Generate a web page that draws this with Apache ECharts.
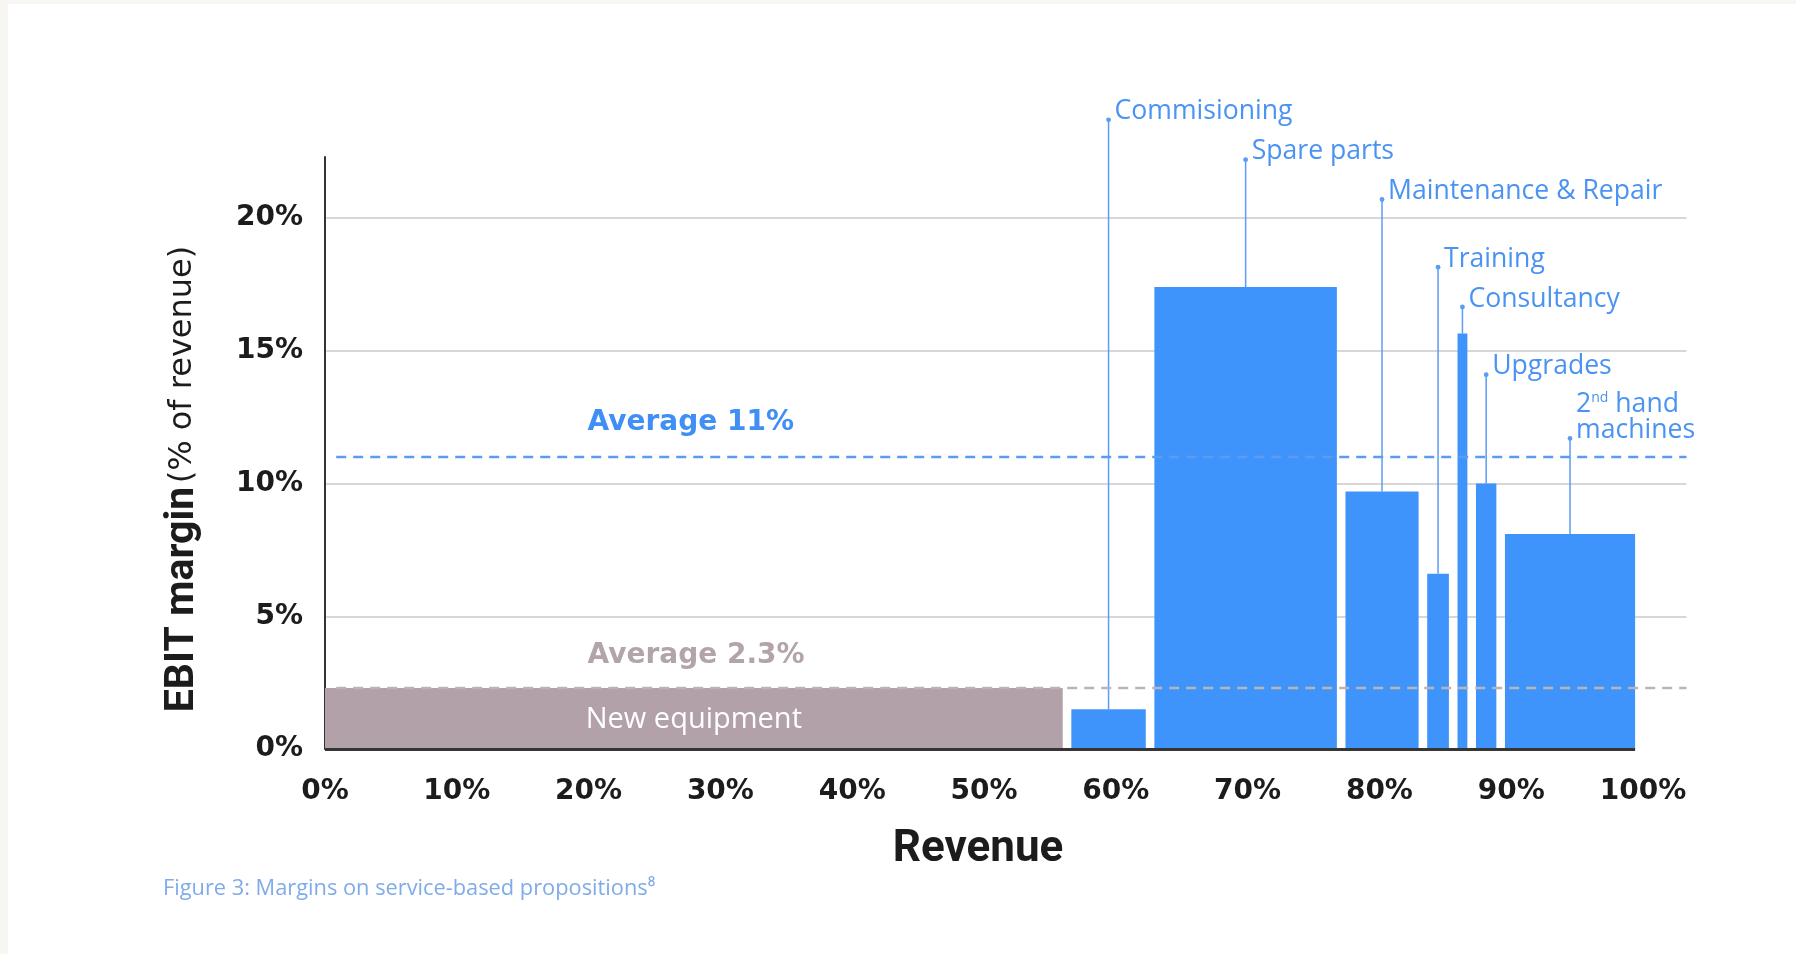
<!DOCTYPE html>
<html><head><meta charset="utf-8">
<script src="https://cdn.jsdelivr.net/npm/echarts@6/dist/echarts.min.js"></script>
<style>
html,body{margin:0;padding:0;background:#f8f6f2;overflow:hidden;}
#bg{position:absolute;left:8px;top:4px;right:0;bottom:0;background:#fff;}
#chart{position:absolute;left:0;top:0;width:1796px;height:954px;}
</style></head><body><div id="bg"></div><div id="chart"></div>
<script>
// ---- data ----
const segments = ['New equipment','Commisioning','Spare parts','Maintenance & Repair','Training','Consultancy','Upgrades','2nd hand machines'];
const segmentLabels = ['New equipment','Commisioning','Spare parts','Maintenance & Repair','Training','Consultancy','Upgrades','2{sup|nd} hand\nmachines'];
const revenueShare = [56.3, 6.3, 14.5, 6.2, 2.3, 1.4, 2.2, 10.2];   // % of revenue (bar widths)
const ebitMargin   = [2.3, 1.5, 17.4, 9.7, 6.6, 15.65, 10.0, 8.1];  // EBIT margin %
const leaderTop    = [null, 23.7, 22.2, 20.7, 18.15, 16.65, 14.1, 11.7]; // label anchor heights (margin units)
const avgServices = 11;
const avgNewEquipment = 2.3;
const avgLabels = ['Average 11%', 'Average 2.3%'];
const xAxisTitle = 'Revenue';
const caption = 'Figure 3: Margins on service-based propositions\u2078';

// ---- styles ----
const BLUE = '#3f94fb', MAUVE = '#b2a1a8', LEADER = '#5a9cf6', TEXTBLUE = '#4a93f2';
const GRID = '#cdc8cb', DARK = '#1c1c1c';

let acc = 0;
const barData = revenueShare.map((w, i) => { const s = acc; acc += w; return [s, acc, ebitMargin[i], i]; });
const total = acc;
const last = barData.length - 1;

function renderBar(params, api) {
  const s = api.value(0), e = api.value(1), m = api.value(2), i = api.value(3);
  const p0 = api.coord([s, 0]), p1 = api.coord([e, m]);
  const half = 4.3;
  const x0 = i === 0 ? p0[0] : p0[0] + half;
  const x1 = i === last ? p1[0] : p1[0] - half;
  const children = [{
    type: 'rect', shape: { x: x0, y: p1[1], width: x1 - x0, height: p0[1] - p1[1] },
    style: { fill: i === 0 ? MAUVE : BLUE }
  }];
  if (i === 0) {
    children.push({ type: 'text', z2: 5, style: {
      text: segmentLabels[0], x: (x0 + x1) / 2, y: (p0[1] + p1[1]) / 2 + 1,
      align: 'center', verticalAlign: 'middle', fill: '#ffffff',
      fontSize: 29, fontFamily: '"Open Sans"' } });
  } else {
    const cx = (x0 + x1) / 2;
    const ty = api.coord([0, leaderTop[i]])[1];
    children.push({ type: 'line', shape: { x1: cx, y1: p1[1], x2: cx, y2: ty }, style: { stroke: LEADER, lineWidth: 1.5 } });
    children.push({ type: 'circle', shape: { cx: cx, cy: ty, r: 2.4 }, style: { fill: LEADER } });
    children.push({ type: 'text', style: {
      text: segmentLabels[i], x: cx + 6, y: ty + 5, align: 'left', verticalAlign: 'bottom',
      fill: TEXTBLUE, fontSize: 26.6, fontFamily: '"Open Sans"', lineHeight: 26,
      rich: { sup: { fontSize: 14, fontFamily: '"Open Sans"', fill: TEXTBLUE, verticalAlign: 'top', lineHeight: 16 } }
    } });
  }
  return { type: 'group', children: children };
}

const chart = echarts.init(document.getElementById('chart'), null, { renderer: 'canvas' });
const option = {
  backgroundColor: 'transparent',
  animation: false,
  grid: { left: 325, right: 109.5, top: 157, bottom: 205, containLabel: false },
  xAxis: {
    type: 'value', min: 0, max: 103.3, interval: 10,
    axisLine: { show: false }, axisTick: { show: false }, splitLine: { show: false },
    axisLabel: { formatter: '{value}%', showMaxLabel: false, margin: 29,
      color: DARK, fontSize: 28, fontWeight: 'bold', fontFamily: '"DejaVu Sans"' }
  },
  yAxis: {
    type: 'value', min: 0, max: 22.3, interval: 5,
    axisLine: { show: true, lineStyle: { color: '#333', width: 2 } },
    axisTick: { show: false },
    splitLine: { show: true, showMinLine: false, showMaxLine: false, lineStyle: { color: GRID, width: 1.6 } },
    axisLabel: { formatter: '{value}%', showMaxLabel: false, margin: 22,
      color: DARK, fontSize: 28, fontWeight: 'bold', fontFamily: '"DejaVu Sans"' }
  },
  series: [
    { type: 'line', data: [], z: 1, silent: true,
      markLine: { silent: true, symbol: 'none', animation: false, label: { show: false },
        data: [
          [{ coord: [0.85, avgServices], lineStyle: { color: '#5b9bf2', width: 2.4, type: [10, 7] } }, { coord: [103.3, avgServices] }],
          [{ coord: [0.85, avgNewEquipment], lineStyle: { color: '#bcb3b8', width: 2.4, type: [10, 7] } }, { coord: [103.3, avgNewEquipment] }]
        ] } },
    { type: 'custom', z: 2, data: barData, encode: { x: [0, 1], y: 2 }, renderItem: renderBar, clip: false, silent: true },
    { type: 'line', data: [], z: 3, silent: true,
      markLine: { silent: true, symbol: 'none', animation: false, label: { show: false },
        data: [[{ coord: [0, 0], lineStyle: { color: '#353535', width: 3, type: 'solid' } }, { coord: [total, 0] }]] } }
  ]
};
chart.setOption(option);

const pA = chart.convertToPixel({ gridIndex: 0 }, [20, avgServices + 1.28]);
const pB = chart.convertToPixel({ gridIndex: 0 }, [20, avgNewEquipment + 1.2]);
const pMid = chart.convertToPixel({ gridIndex: 0 }, [total / 2, 0]);
chart.setOption({
  graphic: [
    { type: 'text', x: pA[0] - 1, y: pA[1], style: { text: avgLabels[0], align: 'left', verticalAlign: 'middle',
      fill: '#3f8ff5', fontSize: 28, fontWeight: 'bold', fontFamily: '"DejaVu Sans"' } },
    { type: 'text', x: pB[0] - 1, y: pB[1], style: { text: avgLabels[1], align: 'left', verticalAlign: 'middle',
      fill: '#b3a4ab', fontSize: 28, fontWeight: 'bold', fontFamily: '"DejaVu Sans"' } },
    { type: 'text', x: pMid[0] - 2, y: 850, style: { text: xAxisTitle, align: 'center', verticalAlign: 'middle',
      fill: DARK, fontSize: 44, fontWeight: 'bold', fontFamily: 'Roboto' } },
    { type: 'text', x: 183, y: 479, rotation: Math.PI / 2, style: {
      text: '{b|EBIT margin} {r|(% of revenue)}', align: 'center', verticalAlign: 'middle',
      rich: { b: { fontSize: 41, fontWeight: 'bold', fontFamily: 'Roboto', fill: DARK },
              r: { fontSize: 32, fontFamily: '"DejaVu Sans"', fill: DARK } } } },
    { type: 'text', x: 163, y: 889, style: { text: caption, align: 'left', verticalAlign: 'middle',
      fill: '#7fabea', fontSize: 21.8, fontFamily: '"Open Sans"' } }
  ]
});
</script></body></html>
